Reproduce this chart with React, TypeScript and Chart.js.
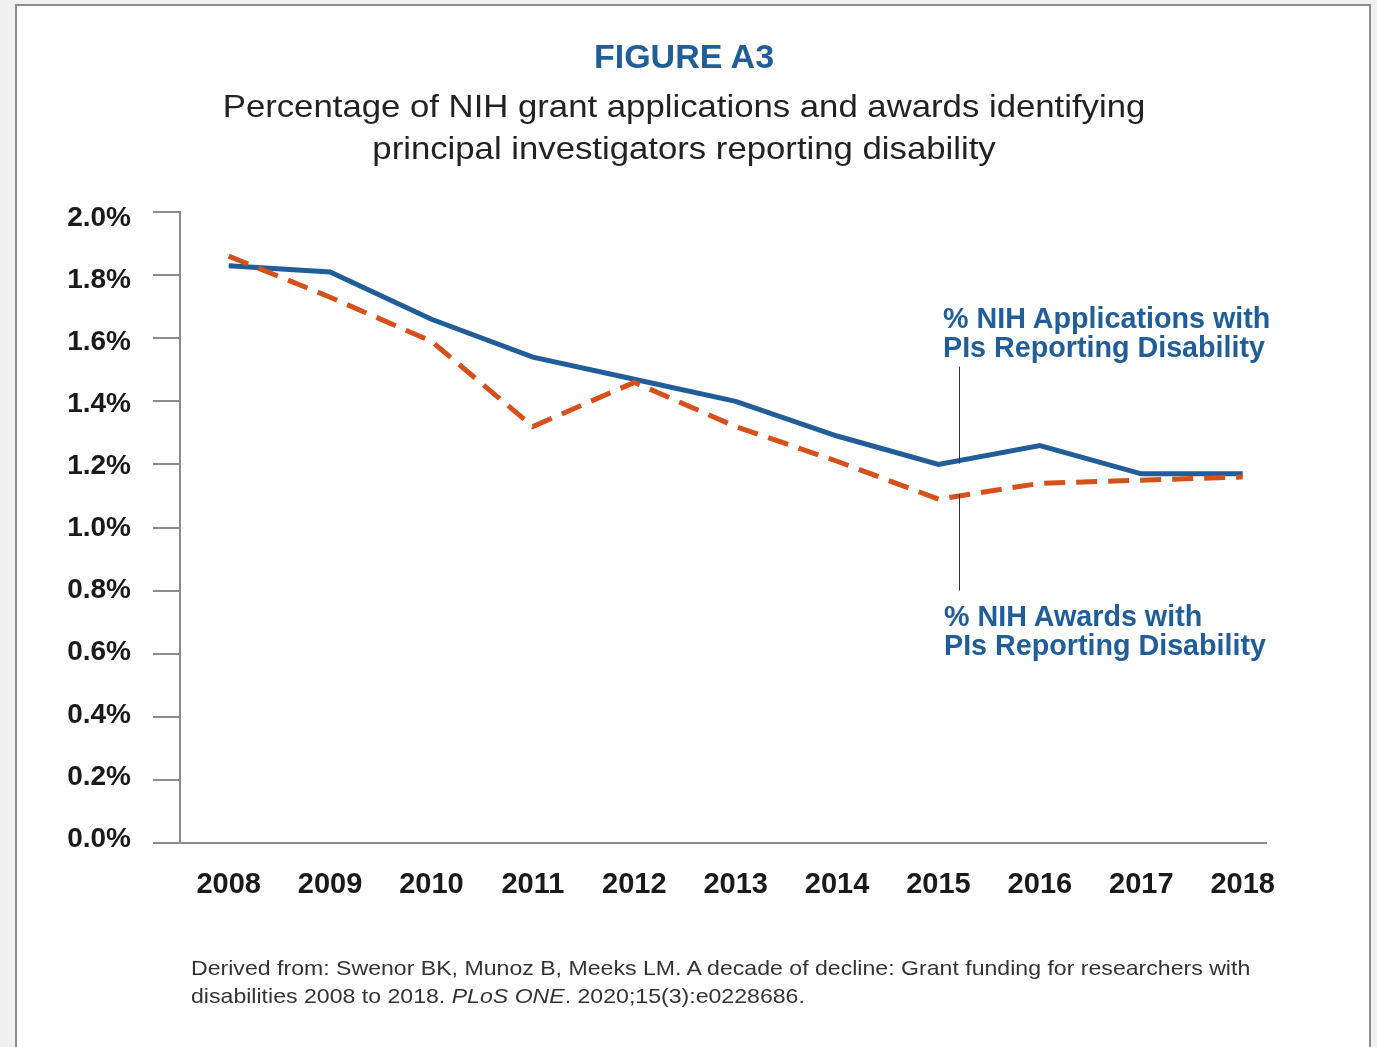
import React, { useEffect, useRef } from "react";
import { Chart, registerables } from "chart.js";

Chart.register(...registerables);

const years = [2008, 2009, 2010, 2011, 2012, 2013, 2014, 2015, 2016, 2017, 2018];
const applicationsPct = [1.83, 1.81, 1.66, 1.54, 1.47, 1.4, 1.29, 1.2, 1.26, 1.17, 1.17];
const awardsPct = [1.86, 1.73, 1.59, 1.32, 1.46, 1.32, 1.21, 1.09, 1.14, 1.15, 1.16];
const yTicks = [0, 0.2, 0.4, 0.6, 0.8, 1.0, 1.2, 1.4, 1.6, 1.8, 2.0];

const FONT = '"Liberation Sans", Arial, Helvetica, sans-serif';
const BLUE = "#215e99";
const ORANGE = "#d6501a";
const AXIS = "#8c8c8c";

const interp = (arr: number[], x: number) => {
  const i = Math.floor(x - years[0]);
  const f = x - years[0] - i;
  return arr[i] + (arr[i + 1] - arr[i]) * f;
};

const leaderPlugin = {
  id: "leaders",
  afterDatasetsDraw(chart: any) {
    const { ctx, scales } = chart;
    const xs = scales.x;
    const ys = scales.y;
    const xv = 2015.2;
    const px = Math.round(xs.getPixelForValue(xv)) + 0.5;
    ctx.save();
    ctx.strokeStyle = "#333";
    ctx.lineWidth = 1;
    ctx.beginPath();
    ctx.moveTo(px, ys.getPixelForValue(1.51));
    ctx.lineTo(px, ys.getPixelForValue(interp(applicationsPct, xv)) + 3);
    ctx.moveTo(px, ys.getPixelForValue(interp(awardsPct, xv)) - 2);
    ctx.lineTo(px, ys.getPixelForValue(0.8));
    ctx.stroke();
    ctx.restore();
  },
};

export default function App() {
  const canvasRef = useRef<HTMLCanvasElement | null>(null);

  useEffect(() => {
    if (!canvasRef.current) return;
    Chart.defaults.font.family = FONT;
    const chart = new Chart(canvasRef.current, {
      type: "line",
      data: {
        datasets: [
          {
            label: "% NIH Awards with PIs Reporting Disability",
            data: years.map((y, i) => ({ x: y, y: awardsPct[i] })),
            borderColor: ORANGE,
            borderWidth: 5,
            borderDash: [21, 11],
            pointRadius: 0,
            tension: 0,
            fill: false,
            yAxisID: "y",
          },
          {
            label: "% NIH Applications with PIs Reporting Disability",
            data: years.map((y, i) => ({ x: y, y: applicationsPct[i] })),
            borderColor: BLUE,
            borderWidth: 5,
            pointRadius: 0,
            tension: 0,
            fill: false,
            yAxisID: "y",
          },
        ],
      },
      options: {
        animation: false,
        responsive: false,
        devicePixelRatio: 1,
        layout: { padding: { top: 212, right: 111, left: 0, bottom: 0 } },
        plugins: { legend: { display: false }, tooltip: { enabled: false } },
        scales: {
          x: {
            type: "linear",
            min: 2007.52,
            max: 2018.23,
            afterBuildTicks: (s: any) => {
              s.ticks = years.map((v) => ({ value: v }));
            },
            afterFit: (s: any) => {
              s.height = 1047 - 843;
            },
            grid: { display: false, drawTicks: false },
            border: { display: true, color: AXIS, width: 2 },
            ticks: {
              padding: 25,
              color: "#1a1a1a",
              font: { size: 29, weight: "bold", family: FONT },
              callback: (v: any) => String(v),
              maxRotation: 0,
              autoSkip: false,
            },
          },
          y: {
            position: "left",
            weight: 0,
            min: 0,
            max: 2,
            afterBuildTicks: (s: any) => {
              s.ticks = yTicks.map((v) => ({ value: v }));
            },
            afterFit: (s: any) => {
              s.width = 0;
            },
            grid: {
              drawOnChartArea: false,
              drawTicks: true,
              tickLength: 27,
              color: AXIS,
              lineWidth: 2,
            },
            border: { display: true, color: AXIS, width: 2 },
            ticks: { display: false },
          },
          yLabels: {
            position: "left",
            weight: 1,
            min: -0.0129,
            max: 2.0193,
            afterBuildTicks: (s: any) => {
              s.ticks = yTicks.map((v) => ({ value: v }));
            },
            afterFit: (s: any) => {
              s.width = 180;
            },
            grid: { display: false, drawTicks: false, drawOnChartArea: false },
            border: { display: false },
            ticks: {
              padding: 49,
              color: "#1a1a1a",
              font: { size: 28, weight: "bold", family: FONT },
              callback: (v: any) => Number(v).toFixed(1) + "%",
            },
          },
        },
      },
      plugins: [leaderPlugin],
    } as any);
    return () => chart.destroy();
  }, []);

  const abs = (o: React.CSSProperties): React.CSSProperties => ({ position: "absolute", ...o });

  return (
    <div
      style={{
        position: "fixed",
        left: 0,
        top: 0,
        width: 1377,
        height: 1047,
        overflow: "hidden",
        background: "#f0f0f0",
        fontFamily: FONT,
      }}
    >
      <div
        style={abs({
          left: 15,
          top: 4,
          width: 1352,
          height: 1100,
          background: "#ffffff",
          border: "2px solid #8c8c8c",
        })}
      />
      <canvas ref={canvasRef} width={1377} height={1047} style={abs({ left: 0, top: 0, width: 1377, height: 1047 })} />
      <div
        style={abs({
          left: 0,
          width: 1368,
          top: 36,
          lineHeight: "40px",
          textAlign: "center",
          fontSize: 34,
          fontWeight: "bold",
          color: BLUE,
        })}
      >
        FIGURE A3
      </div>
      <div
        style={abs({
          left: 0,
          width: 1368,
          top: 85,
          lineHeight: "42px",
          textAlign: "center",
          fontSize: 32,
          color: "#222",
          transform: "scaleX(1.085)",
          transformOrigin: "684px 0",
        })}
      >
        Percentage of NIH grant applications and awards identifying
        <br />
        principal investigators reporting disability
      </div>
      <div
        style={abs({
          left: 943,
          top: 304,
          lineHeight: "29px",
          fontSize: 28.7,
          fontWeight: "bold",
          color: BLUE,
          whiteSpace: "nowrap",
        })}
      >
        % NIH Applications with
        <br />
        PIs Reporting Disability
      </div>
      <div
        style={abs({
          left: 944,
          top: 602,
          lineHeight: "29px",
          fontSize: 28.7,
          fontWeight: "bold",
          color: BLUE,
          whiteSpace: "nowrap",
        })}
      >
        % NIH Awards with
        <br />
        PIs Reporting Disability
      </div>
      <div
        style={abs({
          left: 191,
          top: 954,
          lineHeight: "28px",
          fontSize: 21,
          color: "#333",
          whiteSpace: "nowrap",
          transform: "scaleX(1.1)",
          transformOrigin: "0 0",
        })}
      >
        Derived from: Swenor BK, Munoz B, Meeks LM. A decade of decline: Grant funding for researchers with
        <br />
        disabilities 2008 to 2018. <i>PLoS ONE</i>. 2020;15(3):e0228686.
      </div>
    </div>
  );
}
